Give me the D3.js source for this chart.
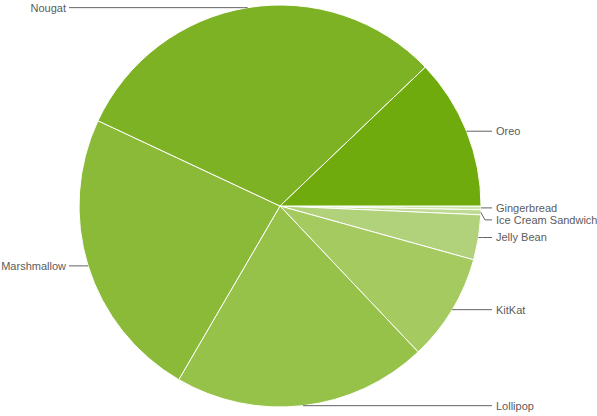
<!DOCTYPE html>
<html>
<head>
<meta charset="utf-8">
<script src="https://cdn.jsdelivr.net/npm/d3@7"></script>
<style>
  body { margin: 0; background: #fff; }
  text { font-family: "Liberation Sans", Arial, sans-serif; font-size: 11px; fill: #5c5c5c; }
</style>
</head>
<body>
<svg id="chart" width="597" height="416"></svg>
<script>
// android version share (clockwise from 3 o'clock)
var versions = ["Gingerbread", "Ice Cream Sandwich", "Jelly Bean", "KitKat", "Lollipop", "Marshmallow", "Nougat", "Oreo"];
var shares = [0.3, 0.4, 3.6, 8.6, 20.4, 23.5, 30.8, 12.1];
var colours = ["#cde4ab", "#bfdb93", "#b1d27a", "#a4ca60", "#97c24a", "#8aba37", "#7db224", "#70ab0d"];

var W = 597, H = 416, cx = 280, cy = 206, r = 201;
var svg = d3.select("#chart");
var g = svg.append("g").attr("transform", "translate(" + cx + "," + cy + ")");

// d3 angles start at 12 o'clock, so shift by a quarter turn
var pie = d3.pie().sort(null).value(function(d) { return d; })
  .startAngle(Math.PI / 2).endAngle(Math.PI / 2 + 2 * Math.PI);
var arcs = pie(shares);
var arc = d3.arc().innerRadius(0).outerRadius(r);

g.selectAll("path.slice")
  .data(arcs).enter()
  .append("path")
  .attr("class", "slice")
  .attr("d", arc)
  .attr("fill", function(d, i) { return colours[i]; })
  .attr("stroke", "#fff")
  .attr("stroke-width", 1);

// label anchors on the rim
var labels = arcs.map(function(d, i) {
  var a = (d.startAngle + d.endAngle) / 2 - Math.PI / 2;
  var x = r * Math.cos(a), y = r * Math.sin(a);
  return { name: versions[i], ax: x, ay: y, y: y, right: x >= 0 };
});

// push overlapping labels apart, keep them inside the frame
[true, false].forEach(function(side) {
  var list = labels.filter(function(l) { return l.right === side; })
    .sort(function(a, b) { return a.ay - b.ay; });
  for (var k = 1; k < list.length; k++) {
    if (list[k].y - list[k - 1].y < 12) list[k].y = list[k - 1].y + 12;
  }
  list.forEach(function(l) {
    l.y = Math.max(6 - cy, Math.min(H - 8 - cy, l.y));
  });
});

var rightX = 496 - cx, leftX = 66 - cx;

g.selectAll("path.leader")
  .data(labels).enter()
  .append("path")
  .attr("class", "leader")
  .attr("fill", "none")
  .attr("stroke", "#636363")
  .attr("stroke-width", 1)
  .attr("d", function(l) {
    var s = l.right ? 1 : -1;
    var end = l.right ? rightX - 4 : leftX + 3;
    return "M" + l.ax + "," + l.ay + "L" + (l.ax + s * 4) + "," + l.y + "L" + end + "," + l.y;
  });

g.selectAll("text")
  .data(labels).enter()
  .append("text")
  .attr("x", function(l) { return l.right ? rightX : leftX; })
  .attr("y", function(l) { return l.y; })
  .attr("dy", "0.35em")
  .attr("text-anchor", function(l) { return l.right ? "start" : "end"; })
  .text(function(l) { return l.name; });
</script>
</body>
</html>
